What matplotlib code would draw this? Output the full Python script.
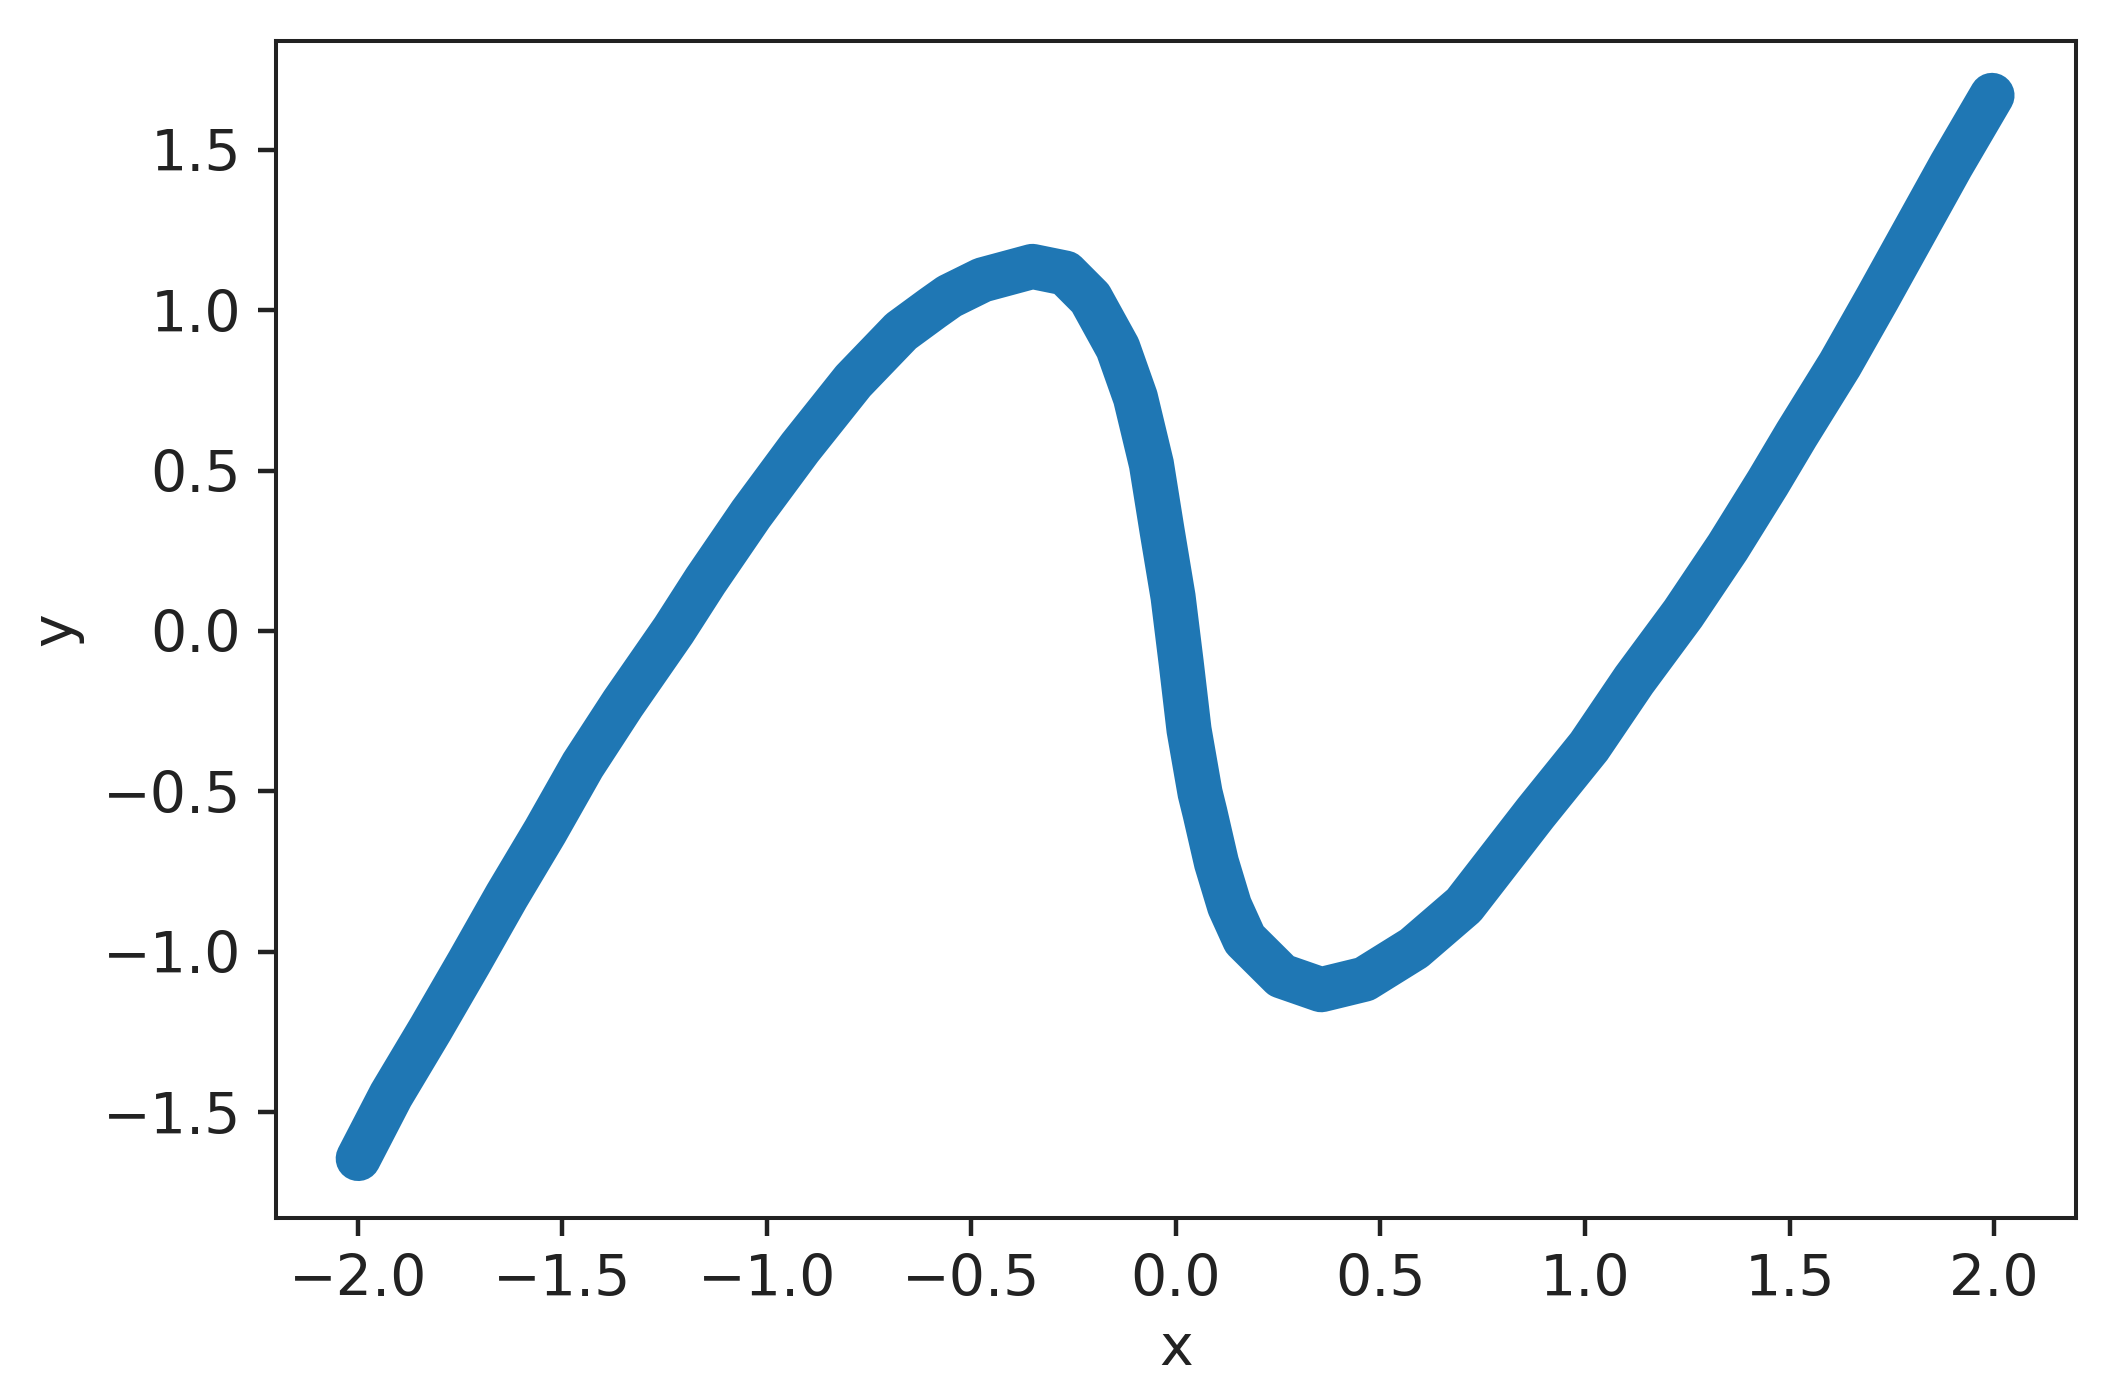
import matplotlib
matplotlib.use("Agg")
import matplotlib.pyplot as plt

# points (centre of the thick band)
x_vals = [-1.999, -1.919, -1.822, -1.728, -1.636, -1.542, -1.450, -1.352,
          -1.228, -1.150, -1.039, -0.919, -0.789, -0.672, -0.595,
          -0.554, -0.473, -0.351, -0.270, -0.209, -0.142, -0.099, -0.060,
          -0.034, -0.007, 0.013, 0.032, 0.059, 0.071, 0.099, 0.131, 0.168,
          0.258, 0.355, 0.461, 0.582, 0.704, 0.879, 1.010, 1.120,
          1.240, 1.349, 1.447, 1.517, 1.623, 1.715, 1.805, 1.895, 1.995]
y_vals = [-1.644, -1.447, -1.240, -1.033, -0.826, -0.625, -0.418, -0.226,
          0.002, 0.157, 0.364, 0.571, 0.779, 0.934, 1.006,
          1.043, 1.094, 1.136, 1.115, 1.037, 0.882, 0.727, 0.520,
          0.313, 0.106, -0.101, -0.308, -0.505, -0.567, -0.722, -0.857, -0.961,
          -1.075, -1.118, -1.085, -0.989, -0.855, -0.567, -0.360, -0.153,
          0.054, 0.261, 0.462, 0.612, 0.830, 1.037, 1.244, 1.451, 1.669]

xticks = [-2.0, -1.5, -1.0, -0.5, 0.0, 0.5, 1.0, 1.5, 2.0]
yticks = [-1.5, -1.0, -0.5, 0.0, 0.5, 1.0, 1.5]

plt.rcParams['font.family'] = ['DejaVu Sans']
fs = 41

fig = plt.figure(figsize=(21.15, 13.97), dpi=100)
ax = fig.add_axes([0.1305, 0.128, 0.851, 0.843])

ax.plot(x_vals, y_vals, color='#1f77b4', linewidth=32.5,
        solid_capstyle='round', solid_joinstyle='round')

ax.set_xticks(xticks)
ax.set_yticks(yticks)
ax.set_xlim(-2.2, 2.2)
ax.set_ylim(-1.83, 1.84)

for s in ax.spines.values():
    s.set_linewidth(2.9)
    s.set_color('#222222')
ax.tick_params(length=13, width=3.2, color='#222222', labelsize=fs,
               labelcolor='#222222', pad=12)
ax.set_xlabel('x', fontsize=fs, color='#222222', labelpad=10)
ax.set_ylabel('y', fontsize=fs, color='#222222', labelpad=14)

fig.savefig('out.png', dpi=100)
